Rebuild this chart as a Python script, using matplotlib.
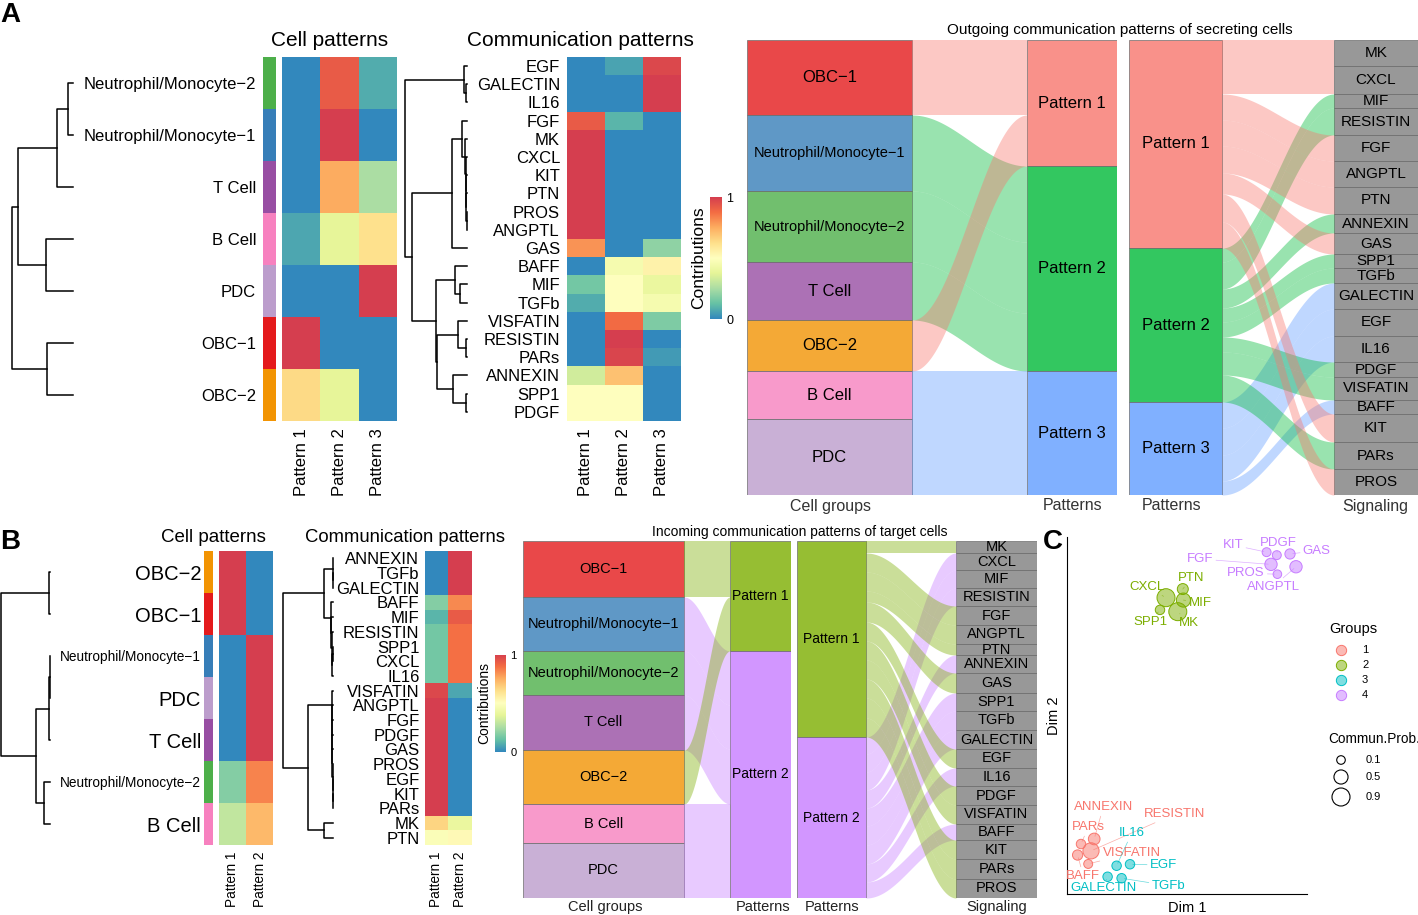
import matplotlib.pyplot as plt
import numpy as np
from matplotlib.colors import LinearSegmentedColormap, to_rgba
from matplotlib.patches import Rectangle

plt.rcParams['font.family'] = ['Liberation Sans', 'DejaVu Sans']

W, H = 1418, 915

# ---------------- data ----------------
spectral = ["#3288BD", "#66C2A5", "#ABDDA4", "#E6F598", "#FFFFBF",
            "#FEE08B", "#FDAE61", "#F46D43", "#D53E4F"]
contrib = LinearSegmentedColormap.from_list("contrib", spectral)

NM1 = "Neutrophil/Monocyte−1"
NM2 = "Neutrophil/Monocyte−2"
cell_color = {"OBC−1": "#E41A1C", "OBC−2": "#F29403", NM1: "#377EB8", NM2: "#4DAF4A",
              "T Cell": "#984EA3", "B Cell": "#F781BF", "PDC": "#BC9DCC"}

# panel A heatmaps
A_cell_rows = [NM2, NM1, "T Cell", "B Cell", "PDC", "OBC−1", "OBC−2"]
A_cell_vals = [[0, 0.92, 0.08], [0, 1, 0], [0, 0.75, 0.25], [0.07, 0.38, 0.62],
               [0, 0, 1], [1, 0, 0], [0.64, 0.38, 0]]
A_cell_tree = (((((NM2, NM1, 0.08), "T Cell", 0.26), ("B Cell", "PDC", 0.44), 0.9),
                ("OBC−1", "OBC−2", 0.43), 1.0))

A_sig_rows = ["EGF", "GALECTIN", "IL16", "FGF", "MK", "CXCL", "KIT", "PTN", "PROS", "ANGPTL",
              "GAS", "BAFF", "MIF", "TGFb", "VISFATIN", "RESISTIN", "PARs", "ANNEXIN", "SPP1", "PDGF"]
A_sig_vals = [[0, 0.06, 0.97], [0, 0, 1], [0, 0, 1], [0.92, 0.1, 0], [1, 0, 0], [1, 0, 0],
              [1, 0, 0], [1, 0, 0], [1, 0, 0], [1, 0, 0], [0.8, 0, 0.2], [0, 0.45, 0.55],
              [0.15, 0.5, 0.4], [0.08, 0.5, 0.45], [0, 0.88, 0.17], [0, 1, 0], [0, 0.98, 0.04],
              [0.33, 0.7, 0], [0.5, 0.5, 0], [0.5, 0.5, 0]]
_mk = ("MK", ("CXCL", ("KIT", ("PTN", ("PROS", "ANGPTL", 0.005), 0.01), 0.015), 0.02), 0.025)
A_sig_tree = (("EGF", ("GALECTIN", "IL16", 0.02), 0.05),
              ((("FGF", _mk, 0.086), "GAS", 0.24),
               (("BAFF", ("MIF", "TGFb", 0.11), 0.19),
                (("VISFATIN", ("RESISTIN", "PARs", 0.02), 0.14),
                 ("ANNEXIN", ("SPP1", "PDGF", 0.02), 0.23), 0.48), 0.5), 0.88), 1.0)
A_patterns = ["Pattern 1", "Pattern 2", "Pattern 3"]

# panel A river
A_riv_cells = ["OBC−1", NM1, NM2, "T Cell", "OBC−2", "B Cell", "PDC"]
A_riv_cell_w = [75, 76, 71, 58, 51, 48, 76]
A_riv_cell_pat = [0, 1, 1, 1, 0, 2, 2]
A_riv_sig = ["MK", "CXCL", "MIF", "RESISTIN", "FGF", "ANGPTL", "PTN", "ANNEXIN", "GAS", "SPP1",
             "TGFb", "GALECTIN", "EGF", "IL16", "PDGF", "VISFATIN", "BAFF", "KIT", "PARs", "PROS"]
A_riv_sig_w = [26, 28, 14, 27, 26, 26, 27, 19, 21, 14, 15, 26, 27, 26, 15, 23, 14, 28, 27, 26]
A_riv_sig_pat = [0, 0, 1, 1, 0, 0, 0, 1, 0, 1, 1, 2, 2, 2, 1, 1, 2, 0, 1, 0]
A_pat_colors = ["#F8766D", "#00BA38", "#619CFF"]

# panel B heatmaps
B_cell_rows = ["OBC−2", "OBC−1", NM1, "PDC", "T Cell", NM2, "B Cell"]
B_cell_vals = [[1, 0], [1, 0], [0, 1], [0, 1], [0, 1], [0.18, 0.83], [0.3, 0.72]]
B_cell_tree = (("OBC−2", "OBC−1", 0.02),
               (((NM1, "PDC", 0.005), "T Cell", 0.015), (NM2, "B Cell", 0.12), 0.28), 1.0)

B_sig_rows = ["ANNEXIN", "TGFb", "GALECTIN", "BAFF", "MIF", "RESISTIN", "SPP1", "CXCL", "IL16",
              "VISFATIN", "ANGPTL", "FGF", "PDGF", "GAS", "PROS", "EGF", "KIT", "PARs", "MK", "PTN"]
B_sig_vals = [[0, 1], [0, 1], [0, 1], [0.18, 0.82], [0.1, 0.92], [0.15, 0.87], [0.15, 0.87],
              [0.15, 0.87], [0.15, 0.87], [0.97, 0.07], [1, 0], [1, 0], [1, 0], [1, 0], [1, 0],
              [1, 0], [1, 0], [1, 0], [0.65, 0.4], [0.48, 0.52]]
_visf = ("VISFATIN", ("ANGPTL", ("FGF", ("PDGF", ("GAS", ("PROS", ("EGF", ("KIT", "PARs", 0.003),
         0.006), 0.009), 0.012), 0.015), 0.018), 0.021), 0.025)
B_sig_tree = ((("ANNEXIN", ("TGFb", "GALECTIN", 0.005), 0.01),
               ("BAFF", ("MIF", ("RESISTIN", (("SPP1", "CXCL", 0.005), "IL16", 0.015), 0.025),
                         0.035), 0.05), 0.18),
              (_visf, ("MK", "PTN", 0.18), 0.5), 1.0)
B_patterns = ["Pattern 1", "Pattern 2"]

# panel B river
B_riv_cells = ["OBC−1", NM1, NM2, "T Cell", "OBC−2", "B Cell", "PDC"]
B_riv_cell_w = [56, 54, 44, 55, 54, 39, 55]
B_riv_cell_pat = [0, 1, 1, 1, 0, 1, 1]
B_riv_sig = ["MK", "CXCL", "MIF", "RESISTIN", "FGF", "ANGPTL", "PTN", "ANNEXIN", "GAS", "SPP1",
             "TGFb", "GALECTIN", "EGF", "IL16", "PDGF", "VISFATIN", "BAFF", "KIT", "PARs", "PROS"]
B_riv_sig_w = [12, 17, 18, 18, 19, 19, 11, 18, 20, 18, 19, 19, 19, 18, 19, 19, 16, 19, 20, 19]
B_riv_sig_pat = [0, 1, 1, 1, 0, 0, 0, 1, 0, 1, 1, 1, 0, 1, 0, 0, 1, 0, 0, 0]
B_pat_colors = ["#7CAE00", "#C77CFF"]

# panel C scatter
C_names = ["KIT", "PDGF", "GAS", "FGF", "ANGPTL", "PROS",
           "CXCL", "PTN", "MIF", "SPP1", "MK",
           "RESISTIN", "ANNEXIN", "PARs", "BAFF", "VISFATIN",
           "IL16", "EGF", "GALECTIN", "TGFb"]
C_group = [4, 4, 4, 4, 4, 4, 2, 2, 2, 2, 2, 1, 1, 1, 1, 1, 3, 3, 3, 3]
C_dim1 = [5.98, 6.49, 7.15, 6.2, 7.45, 6.52, 0.95, 1.79, 1.82, 0.65, 1.54,
          -2.8, -2.64, -3.3, -3.47, -2.94, -1.52, -0.85, -1.97, -1.27]
C_dim2 = [8.49, 8.39, 8.43, 8.08, 8.0, 7.75, 6.96, 7.25, 6.88, 6.55, 6.49,
          -1.55, -1.15, -1.32, -1.69, -1.99, -2.05, -2.0, -2.42, -2.47]
C_prob = [0.12, 0.12, 0.2, 0.35, 0.35, 0.1, 0.9, 0.25, 0.5, 0.15, 0.9,
          0.7, 0.3, 0.15, 0.2, 0.12, 0.15, 0.15, 0.15, 0.15]
C_lab1 = [4.3, 6.55, 8.49, 2.65, 6.3, 4.94, -0.02, 2.19, 2.65, 0.15, 2.07,
          1.4, -2.19, -2.94, -3.19, -0.77, -0.77, 0.82, -2.19, 1.07]
C_lab2 = [8.73, 8.81, 8.54, 8.26, 7.33, 7.78, 7.33, 7.61, 6.79, 6.15, 6.12,
          -0.31, -0.09, -0.76, -2.38, -1.62, -0.96, -2.03, -2.81, -2.72]
C_colors = {1: "#F8766D", 2: "#7CAE00", 3: "#00BFC4", 4: "#C77CFF"}
C_size_breaks = [0.1, 0.5, 0.9]

fig = plt.figure(figsize=(W / 100, H / 100), dpi=100)


def rect(x0, y0, x1, y1):
    return [x0 / W, 1 - y1 / H, (x1 - x0) / W, (y1 - y0) / H]


def ftext(x, y, s, **kw):
    fig.text(x / W, 1 - y / H, s, **kw)


def plain(ax):
    for s in ax.spines.values():
        s.set_visible(False)


def draw_tree(ax, node, rows):
    if isinstance(node, str):
        return float(rows.index(node)), 0.0
    l, r, h = node
    yl, hl = draw_tree(ax, l, rows)
    yr, hr = draw_tree(ax, r, rows)
    ax.plot([hl, h, h, hr], [yl, yl, yr, yr], color="black", lw=1.1, clip_on=False)
    return (yl + yr) / 2, h


def tree_axes(x0, x1, y0, y1, tree, rows):
    ax = fig.add_axes(rect(x0, y0, x1, y1))
    draw_tree(ax, tree, rows)
    ax.set_xlim(1.0, 0)
    ax.set_ylim(len(rows) - 0.5, -0.5)
    ax.axis("off")


def heat(x0, y0, x1, y1, vals, cols, col_fs):
    ax = fig.add_axes(rect(x0, y0, x1, y1))
    ax.imshow(np.array(vals), cmap=contrib, vmin=0, vmax=1, aspect="auto", interpolation="nearest")
    ax.set_xticks(range(len(cols)), cols, rotation=90, fontsize=col_fs)
    ax.set_yticks([])
    ax.tick_params(length=0, pad=5)
    plain(ax)
    return ax


def annot(x0, y0, x1, y1, rows, fs, pad):
    ax = fig.add_axes(rect(x0, y0, x1, y1))
    ax.imshow(np.array([[to_rgba(cell_color[r])[:3]] for r in rows]), aspect="auto")
    ax.set_xticks([])
    ax.set_yticks(range(len(rows)), rows)
    for t, f in zip(ax.get_yticklabels(), fs):
        t.set_fontsize(f)
    ax.tick_params(length=0, pad=pad)
    plain(ax)


def cbar(x0, y0, x1, y1, fs, lfs):
    ax = fig.add_axes(rect(x0, y0, x1, y1))
    ax.imshow(np.linspace(0, 1, 256)[:, None], cmap=contrib, aspect="auto",
              origin="lower", extent=[0, 1, 0, 1])
    ax.set_xticks([])
    ax.yaxis.tick_right()
    ax.set_yticks([0, 1], ["0", "1"], fontsize=fs)
    ax.tick_params(length=0, pad=3)
    ax.set_ylabel("Contributions", fontsize=lfs, labelpad=3)
    ax.yaxis.set_label_position("left")
    plain(ax)


def river(x0, x1, y0, y1, col_l, col_r, left, right, flows, lcol, rcol, fcol, lfs, rfs):
    ax = fig.add_axes(rect(x0, y0, x1, y1))
    lsize = np.array([sum(w for a, b, w in flows if a == i) for i in range(len(left))], float)
    rsize = np.array([sum(w for a, b, w in flows if b == j) for j in range(len(right))], float)
    ax.set_xlim(x0, x1)
    ax.set_ylim(lsize.sum(), 0)
    ltop = np.concatenate([[0], np.cumsum(lsize)[:-1]])
    rtop = np.concatenate([[0], np.cumsum(rsize)[:-1]])
    for tops, sizes, names, cols, (c0, c1), fs in [(ltop, lsize, left, lcol, col_l, lfs),
                                                  (rtop, rsize, right, rcol, col_r, rfs)]:
        for i, nm in enumerate(names):
            ax.add_patch(Rectangle((c0, tops[i]), c1 - c0, sizes[i], fc=to_rgba(cols[i], 0.8),
                                   ec="#6E6E6E", lw=0.5))
            f = fs(nm) if callable(fs) else fs
            ax.text((c0 + c1) / 2, tops[i] + sizes[i] / 2, nm, ha="center", va="center", fontsize=f)
    lcur, rcur = ltop.copy(), rtop.copy()
    pl, pr = {}, {}
    for k in sorted(range(len(flows)), key=lambda k: (flows[k][0], flows[k][1])):
        a, b, w = flows[k]
        pl[k] = lcur[a]
        lcur[a] += w
    for k in sorted(range(len(flows)), key=lambda k: (flows[k][1], flows[k][0])):
        a, b, w = flows[k]
        pr[k] = rcur[b]
        rcur[b] += w
    t = np.linspace(0, 1, 100)
    s = (1 - np.cos(np.pi * t)) / 2
    xs = col_l[1] + (col_r[0] - col_l[1]) * t
    for k, (a, b, w) in enumerate(flows):
        top = pl[k] + (pr[k] - pl[k]) * s
        ax.fill_between(xs, top, top + w, color=fcol(a, b), alpha=0.4, lw=0)
    ax.axis("off")


# ---------------- panel A ----------------
ftext(0, 15, "A", fontsize=20, fontweight="bold", va="center")
ftext(330, 40, "Cell patterns", fontsize=15, ha="center", va="center")
ftext(580, 40, "Communication patterns", fontsize=15, ha="center", va="center")

tree_axes(12, 73, 57, 421, A_cell_tree, A_cell_rows)
annot(263, 57, 276, 421, A_cell_rows, [12] * 7, 5)
heat(282, 57, 397, 421, A_cell_vals, A_patterns, 12)

tree_axes(405, 467, 57, 421, A_sig_tree, A_sig_rows)
ax = heat(567, 57, 681, 421, A_sig_vals, A_patterns, 12)
ax.set_yticks(range(len(A_sig_rows)), A_sig_rows, fontsize=12)
ax.tick_params(axis="y", length=0, pad=5)
cbar(710, 197, 722, 319, 9, 12.5)

ftext(1120, 30, "Outgoing communication patterns of secreting cells", fontsize=11,
      ha="center", va="center")
river(747, 1117, 40, 495, (747, 912), (1027, 1117), A_riv_cells, A_patterns,
      [(i, p, w) for i, (p, w) in enumerate(zip(A_riv_cell_pat, A_riv_cell_w))],
      [cell_color[c] for c in A_riv_cells], A_pat_colors, lambda a, b: A_pat_colors[b],
      lambda n: 10.5 if len(n) > 8 else 12, 12)
river(1129, 1418, 40, 495, (1129, 1222), (1334, 1418), A_patterns, A_riv_sig,
      [(p, j, w) for j, (p, w) in enumerate(zip(A_riv_sig_pat, A_riv_sig_w))],
      A_pat_colors, ["#7F7F7F"] * 20, lambda a, b: A_pat_colors[a], 12, 11)
for x, s in [(830, "Cell groups"), (1073, "Patterns"), (1172, "Patterns"), (1375, "Signaling")]:
    ftext(x, 506, s, fontsize=11.5, ha="center", va="center", color="#333333")

# ---------------- panel B ----------------
ftext(0, 542, "B", fontsize=20, fontweight="bold", va="center")
ftext(213, 538, "Cell patterns", fontsize=13.5, ha="center", va="center")
ftext(405, 538, "Communication patterns", fontsize=13.3, ha="center", va="center")

tree_axes(1, 50, 551, 845, B_cell_tree, B_cell_rows)
annot(204, 551, 213, 845, B_cell_rows,
      [9.8 if r.startswith("Neut") else 14.5 for r in B_cell_rows], 2)
heat(219, 551, 273, 845, B_cell_vals, B_patterns, 9.8)

tree_axes(283, 333, 551, 845, B_sig_tree, B_sig_rows)
ax = heat(425, 551, 471, 845, B_sig_vals, B_patterns, 9.8)
ax.set_yticks(range(len(B_sig_rows)), B_sig_rows, fontsize=12)
ax.tick_params(axis="y", length=0, pad=4)
cbar(495, 655, 506, 752, 8, 10)

ftext(800, 532, "Incoming communication patterns of target cells", fontsize=10,
      ha="center", va="center")
river(523, 791, 541, 898, (523, 684), (730, 791), B_riv_cells, B_patterns,
      [(i, p, w) for i, (p, w) in enumerate(zip(B_riv_cell_pat, B_riv_cell_w))],
      [cell_color[c] for c in B_riv_cells], B_pat_colors, lambda a, b: B_pat_colors[b],
      10.5, 10)
river(797, 1037, 541, 898, (797, 866), (956, 1037), B_patterns, B_riv_sig,
      [(p, j, w) for j, (p, w) in enumerate(zip(B_riv_sig_pat, B_riv_sig_w))],
      B_pat_colors, ["#7F7F7F"] * 20, lambda a, b: B_pat_colors[a], 10, 10.5)
for x, s in [(605, "Cell groups"), (763, "Patterns"), (832, "Patterns"), (997, "Signaling")]:
    ftext(x, 907, s, fontsize=10.5, ha="center", va="center", color="#222222")

# ---------------- panel C ----------------
ftext(1043, 542, "C", fontsize=20, fontweight="bold", va="center")


def psize(p):
    return 38 + 162.5 * (np.asarray(p) - 0.1)


ax = fig.add_axes(rect(1067, 537, 1307, 894))
cols = [C_colors[g] for g in C_group]
ax.scatter(C_dim1, C_dim2, s=psize(C_prob), c=[to_rgba(c, 0.5) for c in cols],
           edgecolors=cols, linewidths=0.7, zorder=3)
for n, x, y, lx, ly, c in zip(C_names, C_dim1, C_dim2, C_lab1, C_lab2, cols):
    ax.annotate(n, xy=(x, y), xytext=(lx, ly), fontsize=9.5, color=c, ha="center", va="center",
                arrowprops=dict(arrowstyle="-", color=c, lw=0.5, alpha=0.6, shrinkA=0, shrinkB=2))
ax.set_xlim(-4, 8)
ax.set_ylim(-3, 9)
ax.set_xticks([])
ax.set_yticks([])
ax.spines[["top", "right"]].set_visible(False)
ax.set_xlabel("Dim 1", fontsize=10.5, labelpad=5)
ax.set_ylabel("Dim 2", fontsize=10.5, labelpad=4)

lg = fig.add_axes(rect(1320, 615, 1418, 810))
lg.set_xlim(1320, 1418)
lg.set_ylim(810, 615)
lg.axis("off")
lg.text(1329, 629, "Groups", fontsize=10.5, va="center")
for i, g in enumerate([1, 2, 3, 4]):
    lg.scatter(1341, 650 + 15 * i, s=55, color=to_rgba(C_colors[g], 0.5),
               edgecolors=C_colors[g], linewidths=0.7)
    lg.text(1362, 650 + 15 * i, str(g), fontsize=8, va="center")
lg.text(1328, 739, "Commun.Prob.", fontsize=9.8, va="center")
for i, p in enumerate(C_size_breaks):
    yy = [760, 777, 797][i]
    lg.scatter(1341, yy, s=psize(p), facecolors="none", edgecolors="black", linewidths=0.8)
    lg.text(1366, yy, str(p), fontsize=8, va="center")

fig.savefig("out.png", dpi=100)
